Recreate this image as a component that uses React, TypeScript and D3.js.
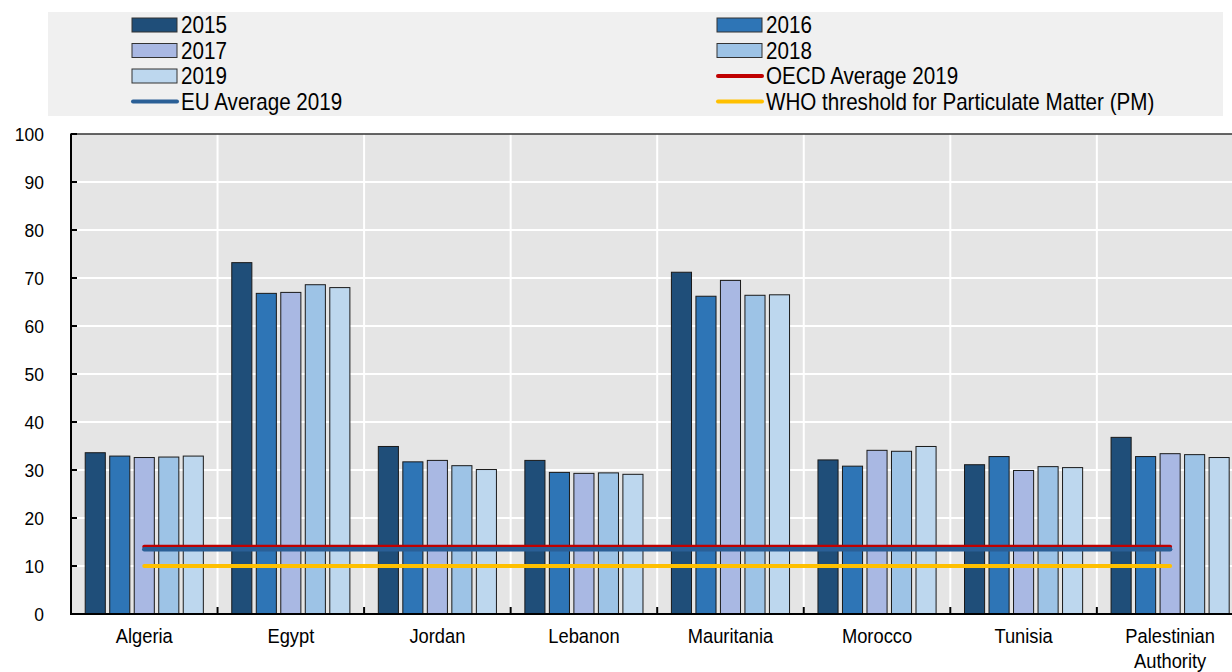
import React from "react";
import * as d3 from "d3";

const categories = ["Algeria", "Egypt", "Jordan", "Lebanon", "Mauritania", "Morocco", "Tunisia", "Palestinian Authority"];
const years = ["2015", "2016", "2017", "2018", "2019"];
const values2015 = [33.6, 73.2, 34.9, 32.0, 71.2, 32.1, 31.1, 36.8];
const values2016 = [32.9, 66.8, 31.7, 29.5, 66.2, 30.8, 32.8, 32.8];
const values2017 = [32.6, 67.0, 32.0, 29.3, 69.5, 34.1, 29.9, 33.4];
const values2018 = [32.7, 68.6, 30.9, 29.4, 66.4, 33.9, 30.7, 33.2];
const values2019 = [32.9, 68.0, 30.1, 29.1, 66.5, 34.9, 30.5, 32.6];
const oecdAverage = 14.0;
const euAverage = 13.5;
const whoThreshold = 10;
const yTicks = [0, 10, 20, 30, 40, 50, 60, 70, 80, 90, 100];

const seriesValues = [values2015, values2016, values2017, values2018, values2019];
const barColors = ["#1f4e79", "#2e75b6", "#a9b8e3", "#9dc3e6", "#bdd7ee"];
const COL_OECD = "#c00000";
const COL_EU = "#2a5f96";
const COL_WHO = "#ffc000";

const FONT = "'Liberation Sans', Arial, sans-serif";

function T({ x, y, size, anchor = "start", sx = 0.9, children }: any) {
  return (
    <text
      transform={`translate(${x},${y}) scale(${sx},1)`}
      fontSize={size}
      fontFamily={FONT}
      textAnchor={anchor}
      fill="#000"
    >
      {children}
    </text>
  );
}

export default function App() {
  const W = 1232;
  const H = 672;
  const left = 71;
  const step = 146.55;
  const top = 134;
  const bottom = 614;

  const x = d3.scaleBand<string>().domain(categories).range([left, left + step * categories.length]).paddingInner(0).paddingOuter(0);
  const xi = d3.scaleBand<string>().domain(years).range([0, x.bandwidth()]).paddingInner(0.18).paddingOuter(0.58);
  const y = d3.scaleLinear().domain([0, 100]).range([bottom, top]);

  const lineX1 = (x(categories[0]) as number) + x.bandwidth() / 2;
  const lineX2 = (x(categories[categories.length - 1]) as number) + x.bandwidth() / 2;

  const legendRows = [25, 50.5, 76, 101.5];
  const col1 = 132;
  const col2 = 717;
  const legendItems = [
    { type: "bar", label: "2015", color: barColors[0], cx: col1, row: 0 },
    { type: "bar", label: "2016", color: barColors[1], cx: col2, row: 0 },
    { type: "bar", label: "2017", color: barColors[2], cx: col1, row: 1 },
    { type: "bar", label: "2018", color: barColors[3], cx: col2, row: 1 },
    { type: "bar", label: "2019", color: barColors[4], cx: col1, row: 2 },
    { type: "line", label: "OECD Average 2019", color: COL_OECD, cx: col2, row: 2 },
    { type: "line", label: "EU Average 2019", color: COL_EU, cx: col1, row: 3 },
    { type: "line", label: "WHO threshold for Particulate Matter (PM)", color: COL_WHO, cx: col2, row: 3 },
  ];

  return (
    <svg width={W} height={H} style={{ position: "absolute", left: 0, top: 0, display: "block" }}>
      <rect x={0} y={0} width={W} height={H} fill="#fff" />
      {/* legend */}
      <rect x={48} y={12} width={1175} height={104} fill="#f0f0f0" />
      {legendItems.map((it, i) => {
        const cy = legendRows[it.row];
        return (
          <g key={i}>
            {it.type === "bar" ? (
              <rect x={it.cx} y={cy - 7} width={45} height={14} fill={it.color} stroke="#333" strokeWidth={1} />
            ) : (
              <line x1={it.cx + 1} x2={it.cx + 45} y1={cy} y2={cy} stroke={it.color} strokeWidth={4} strokeLinecap="round" />
            )}
            <T x={it.cx + 49} y={cy + 8.3} size={23} sx={0.897}>
              {it.label}
            </T>
          </g>
        );
      })}

      {/* plot background */}
      <rect x={left} y={top} width={W - left} height={bottom - top} fill="#e5e5e5" />
      {/* horizontal gridlines */}
      {yTicks.slice(1, -1).map((t) => (
        <line key={t} x1={left} x2={W} y1={y(t)} y2={y(t)} stroke="#fff" strokeWidth={2} />
      ))}
      {/* vertical gridlines */}
      {categories.slice(1).map((c) => (
        <line key={c} x1={x(c) as number} x2={x(c) as number} y1={top} y2={bottom} stroke="#fff" strokeWidth={2} />
      ))}
      {/* top border */}
      <line x1={left} x2={W} y1={top} y2={top} stroke="#333" strokeWidth={1.5} />

      {/* bars */}
      {categories.map((c, ci) => (
        <g key={c} transform={`translate(${x(c)},0)`}>
          {years.map((yr, si) => {
            const v = seriesValues[si][ci];
            return (
              <rect
                key={yr}
                x={xi(yr) as number}
                y={y(v)}
                width={xi.bandwidth()}
                height={bottom - y(v)}
                fill={barColors[si]}
                stroke="#1a1a1a"
                strokeWidth={1}
              />
            );
          })}
        </g>
      ))}

      {/* reference lines */}
      <line x1={lineX1} x2={lineX2} y1={y(oecdAverage)} y2={y(oecdAverage)} stroke={COL_OECD} strokeWidth={4} strokeLinecap="round" />
      <line x1={lineX1} x2={lineX2} y1={y(euAverage)} y2={y(euAverage)} stroke={COL_EU} strokeWidth={4.5} strokeLinecap="round" />
      <line x1={lineX1} x2={lineX2} y1={y(whoThreshold)} y2={y(whoThreshold)} stroke={COL_WHO} strokeWidth={4} strokeLinecap="round" />

      {/* axes */}
      <line x1={left} x2={left} y1={top - 0.5} y2={bottom + 1} stroke="#000" strokeWidth={2} />
      <line x1={left - 1} x2={W} y1={bottom} y2={bottom} stroke="#000" strokeWidth={2} />
      {yTicks.map((t) => (
        <g key={t}>
          <line x1={left} x2={left + 6} y1={y(t)} y2={y(t)} stroke="#000" strokeWidth={2} />
          <T x={44} y={y(t) + 7} size={19} anchor="end" sx={0.92}>
            {t}
          </T>
        </g>
      ))}
      {categories.slice(1).map((c) => (
        <line key={c} x1={x(c) as number} x2={x(c) as number} y1={bottom - 7} y2={bottom} stroke="#000" strokeWidth={2} />
      ))}
      {categories.map((c) => {
        const cx = (x(c) as number) + x.bandwidth() / 2;
        const parts = c === "Palestinian Authority" ? ["Palestinian", "Authority"] : [c];
        return parts.map((p, i) => (
          <T key={c + i} x={cx} y={643 + i * 25} size={19.5} anchor="middle" sx={0.94}>
            {p}
          </T>
        ));
      })}
    </svg>
  );
}
